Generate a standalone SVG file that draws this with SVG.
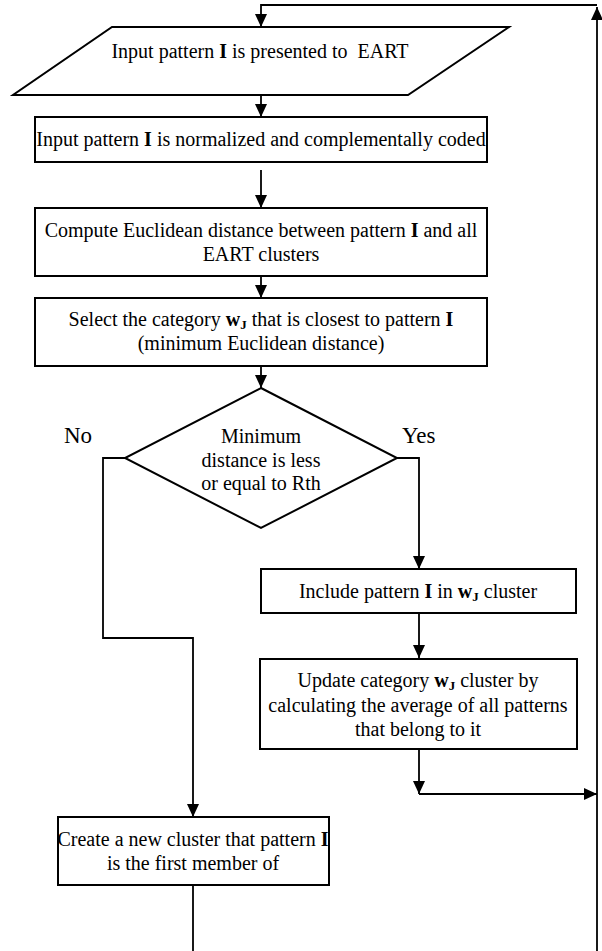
<svg xmlns="http://www.w3.org/2000/svg" width="602" height="951" viewBox="0 0 602 951">
<style>
.box{fill:#fff;stroke:#000;stroke-width:2}
.ln{fill:none;stroke:#000;stroke-width:1.8}
.t{font-family:"Liberation Serif","Times New Roman",serif;font-size:20px;fill:#000;text-anchor:middle}
.lb{font-family:"Liberation Serif","Times New Roman",serif;font-size:23px;fill:#000}
.b{font-weight:bold}
.sub{font-weight:bold;font-size:13px}
</style>
<defs>
<marker id="ah" markerUnits="userSpaceOnUse" markerWidth="14" markerHeight="12" refX="13" refY="6" orient="auto">
<path d="M0,0 L13,6 L0,12 z" fill="#000"/>
</marker>
</defs>
<g id="connectors">
<path class="ln" d="M597,5 L261,5 L261,27" marker-end="url(#ah)"/>
<path class="ln" d="M261,95 L261,117" marker-end="url(#ah)"/>
<path class="ln" d="M261,170 L261,208" marker-end="url(#ah)"/>
<path class="ln" d="M261,276 L261,298" marker-end="url(#ah)"/>
<path class="ln" d="M261,366 L261,388" marker-end="url(#ah)"/>
<path class="ln" d="M397,458 L419,458 L419,569" marker-end="url(#ah)"/>
<path class="ln" d="M125,458 L103,458 L103,638 L193,638 L193,817" marker-end="url(#ah)"/>
<path class="ln" d="M419,613 L419,658" marker-end="url(#ah)"/>
<path class="ln" d="M419,749 L419,794" marker-end="url(#ah)"/>
<path class="ln" d="M419,794 L597,794" marker-end="url(#ah)"/>
<path class="ln" d="M193,885 L193,951"/>
<path class="ln" d="M597,951 L597,7" marker-end="url(#ah)"/>
</g>
<g id="input">
<polygon class="box" points="112,27 509,27 408,95 13,95"/>
<text class="t" x="260" y="58" xml:space="preserve">Input pattern <tspan class="b">I</tspan> is presented to  EART</text>
</g>
<g id="normalize">
<rect class="box" x="35" y="117" width="452" height="45"/>
<text class="t" x="261" y="146">Input pattern <tspan class="b">I</tspan> is normalized and complementally coded</text>
</g>
<g id="compute">
<rect class="box" x="35" y="208" width="452" height="68"/>
<text class="t" x="261" y="237">Compute Euclidean distance between pattern <tspan class="b">I</tspan> and all</text>
<text class="t" x="261" y="261">EART clusters</text>
</g>
<g id="select">
<rect class="box" x="35" y="298" width="452" height="68"/>
<text class="t" x="261" y="326">Select the category <tspan class="b">w</tspan><tspan class="sub" dy="3">J</tspan><tspan dy="-3"> that is closest to pattern </tspan><tspan class="b">I</tspan></text>
<text class="t" x="261" y="350">(minimum Euclidean distance)</text>
</g>
<g id="decision">
<polygon class="box" points="261,388 397,458 261,528 125,458"/>
<text class="t" x="261" y="443">Minimum</text>
<text class="t" x="261" y="467">distance is less</text>
<text class="t" x="261" y="490">or equal to Rth</text>
</g>
<g id="labels">
<text class="lb" x="64" y="443">No</text>
<text class="lb" x="402" y="443">Yes</text>
</g>
<g id="include">
<rect class="box" x="261" y="569" width="315" height="44"/>
<text class="t" x="418" y="598">Include pattern <tspan class="b">I</tspan> in <tspan class="b">w</tspan><tspan class="sub" dy="3">J</tspan><tspan dy="-3"> cluster</tspan></text>
</g>
<g id="update">
<rect class="box" x="260" y="659" width="317" height="90"/>
<text class="t" x="418" y="687">Update category <tspan class="b">w</tspan><tspan class="sub" dy="3">J</tspan><tspan dy="-3"> cluster by</tspan></text>
<text class="t" x="418" y="712">calculating the average of all patterns</text>
<text class="t" x="418" y="736">that belong to it</text>
</g>
<g id="create">
<rect class="box" x="58" y="817" width="271" height="68"/>
<text class="t" x="193" y="846">Create a new cluster that pattern <tspan class="b">I</tspan></text>
<text class="t" x="193" y="870">is the first member of</text>
</g>
</svg>
